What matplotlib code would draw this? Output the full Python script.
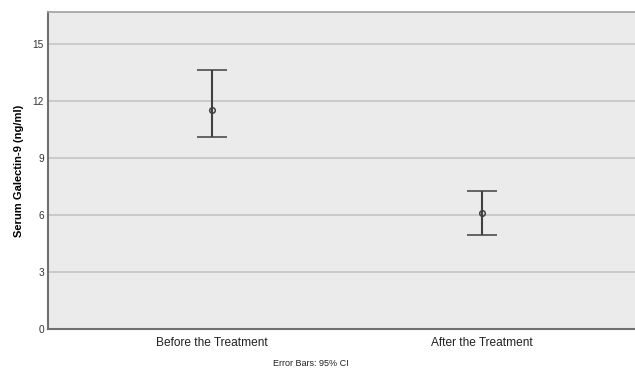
import matplotlib
matplotlib.use("Agg")
import matplotlib.pyplot as plt

categories = ["Before the Treatment", "After the Treatment"]
means = [11.53, 6.10]
ci_lower = [10.10, 4.95]
ci_upper = [13.63, 7.26]
yticks = [0, 3, 6, 9, 12, 15]

plt.rcParams['font.family'] = ['Liberation Sans', 'DejaVu Sans']

fig = plt.figure(figsize=(6.35, 3.69), dpi=100)
ax = fig.add_axes([0.0756, 0.108, 0.9244, 0.859])
ax.set_facecolor('#ebebeb')

x = list(range(len(categories)))
yerr = [[m - l for m, l in zip(means, ci_lower)], [u - m for m, u in zip(means, ci_upper)]]
ax.errorbar(x, means, yerr=yerr, fmt='o', mfc='none', mec='#404040', ms=4, mew=1.1,
            ecolor='#404040', elinewidth=1.5, capsize=10.5, capthick=1.5, zorder=3)

ax.set_ylim(0, 16.68)
ax.set_xlim(-0.607, 1.567)
ax.set_yticks(yticks)
ax.set_yticklabels([str(t) for t in yticks], fontsize=7.3, color='#333333')
ax.set_xticks(x)
ax.set_xticklabels(categories, fontsize=8.6, color='#222222')
ax.tick_params(axis='y', length=0, pad=3)
ax.tick_params(axis='x', length=0, pad=6)
ax.yaxis.grid(True, color='#c4c4c4', linewidth=1.2)
ax.set_axisbelow(True)
ax.spines['right'].set_visible(False)
ax.spines['top'].set_color('#a0a0a0')
ax.spines['top'].set_linewidth(1.2)
ax.spines['left'].set_color('#707070')
ax.spines['left'].set_linewidth(1.5)
ax.spines['bottom'].set_color('#707070')
ax.spines['bottom'].set_linewidth(1.5)

ax.set_ylabel('Serum Galectin-9 (ng/ml)', fontsize=8, fontweight='bold', labelpad=6)
fig.text(0.49, 0.004, 'Error Bars: 95% CI', fontsize=6.5, ha='center', va='bottom', color='#222222')

fig.savefig('out.png', dpi=100)
